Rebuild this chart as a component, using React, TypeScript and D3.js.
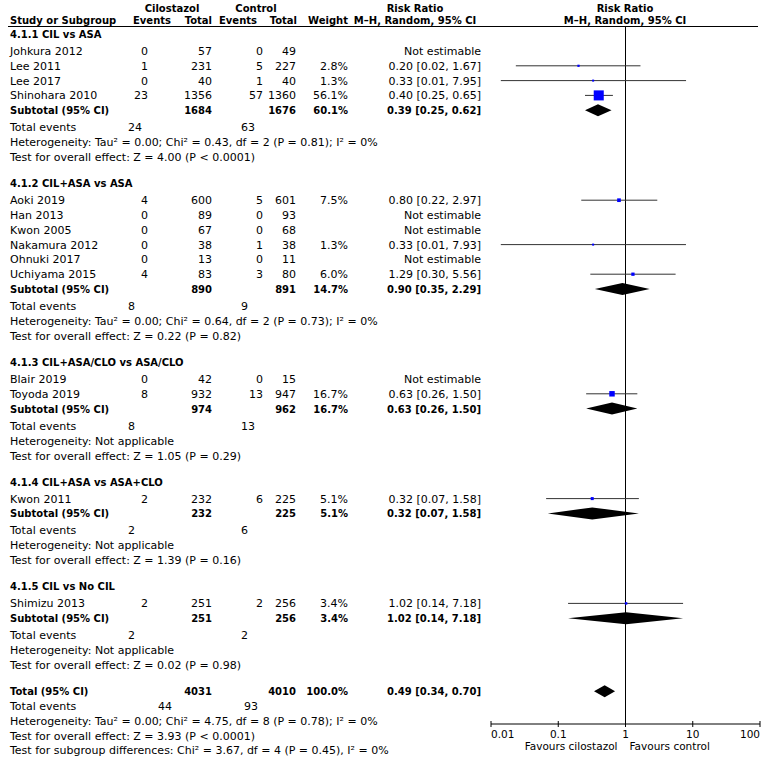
import React from "react";
import * as d3 from "d3";

// ---------- DATA ----------
const groupTitles = [
  "4.1.1 CIL vs ASA",
  "4.1.2 CIL+ASA vs ASA",
  "4.1.3 CIL+ASA/CLO vs ASA/CLO",
  "4.1.4 CIL+ASA vs ASA+CLO",
  "4.1.5 CIL vs No CIL",
];
const studyNames = [
  "Johkura 2012", "Lee 2011", "Lee 2017", "Shinohara 2010",
  "Aoki 2019", "Han 2013", "Kwon 2005", "Nakamura 2012", "Ohnuki 2017", "Uchiyama 2015",
  "Blair 2019", "Toyoda 2019",
  "Kwon 2011",
  "Shimizu 2013",
];
const studyGroup = [0, 0, 0, 0, 1, 1, 1, 1, 1, 1, 2, 2, 3, 4];
const cilEvents = [0, 1, 0, 23, 4, 0, 0, 0, 0, 4, 0, 8, 2, 2];
const cilTotal = [57, 231, 40, 1356, 600, 89, 67, 38, 13, 83, 42, 932, 232, 251];
const ctlEvents = [0, 5, 1, 57, 5, 0, 0, 1, 0, 3, 0, 13, 6, 2];
const ctlTotal = [49, 227, 40, 1360, 601, 93, 68, 38, 11, 80, 15, 947, 225, 256];
const studyWeight: (number | null)[] = [null, 2.8, 1.3, 56.1, 7.5, null, null, 1.3, null, 6.0, null, 16.7, 5.1, 3.4];
const studyRR: (number | null)[] = [null, 0.2, 0.33, 0.4, 0.8, null, null, 0.33, null, 1.29, null, 0.63, 0.32, 1.02];
const studyLo: (number | null)[] = [null, 0.0234, 0.014, 0.25, 0.22, null, null, 0.014, null, 0.3, null, 0.26, 0.066, 0.14];
const studyHi: (number | null)[] = [null, 1.67, 7.95, 0.65, 2.97, null, null, 7.93, null, 5.56, null, 1.5, 1.58, 7.18];

const subCilTotal = [1684, 890, 974, 232, 251];
const subCtlTotal = [1676, 891, 962, 225, 256];
const subWeight = [60.1, 14.7, 16.7, 5.1, 3.4];
const subRR = [0.39, 0.9, 0.63, 0.32, 1.02];
const subLo = [0.25, 0.35, 0.26, 0.07, 0.14];
const subHi = [0.62, 2.29, 1.5, 1.58, 7.18];
const subCilEvents = [24, 8, 8, 2, 2];
const subCtlEvents = [63, 9, 13, 6, 2];
const subHetero = [
  "Heterogeneity: Tau² = 0.00; Chi² = 0.43, df = 2 (P = 0.81); I² = 0%",
  "Heterogeneity: Tau² = 0.00; Chi² = 0.64, df = 2 (P = 0.73); I² = 0%",
  "Heterogeneity: Not applicable",
  "Heterogeneity: Not applicable",
  "Heterogeneity: Not applicable",
];
const subEffect = [
  "Test for overall effect: Z = 4.00 (P < 0.0001)",
  "Test for overall effect: Z = 0.22 (P = 0.82)",
  "Test for overall effect: Z = 1.05 (P = 0.29)",
  "Test for overall effect: Z = 1.39 (P = 0.16)",
  "Test for overall effect: Z = 0.02 (P = 0.98)",
];
const totCil = 4031;
const totCtl = 4010;
const totWeight = 100.0;
const totRR = 0.49;
const totLo = 0.34;
const totHi = 0.7;
const totCilEvents = 44;
const totCtlEvents = 93;
const totHetero = "Heterogeneity: Tau² = 0.00; Chi² = 4.75, df = 8 (P = 0.78); I² = 0%";
const totEffect = "Test for overall effect: Z = 3.93 (P < 0.0001)";
const totSubgroup = "Test for subgroup differences: Chi² = 3.67, df = 4 (P = 0.45), I² = 0%";

const axisTicks = [0.01, 0.1, 1, 10, 100];
const axisTickLabels = ["0.01", "0.1", "1", "10", "100"];
const favoursLeft = "Favours cilostazol";
const favoursRight = "Favours control";

// ---------- LAYOUT ----------
const W = 771;
const H = 762;
const FONT = "'DejaVu Sans', Verdana, sans-serif";
const FS = 11;
const FSB = 10;
const X = {
  label: 10,
  cilEv: 148,
  cilTot: 212,
  ctlEv: 263,
  ctlTot: 296,
  weight: 348,
  ciText: 481,
  teCil: 128,
  teCtl: 241,
  teTotCil: 158,
  teTotCtl: 244,
};
const xScale = d3.scaleLog().domain([0.01, 100]).range([491, 760]);
const axisY = 724;
const headerLineY = 26.5;
const fmt = (v: number) => v.toFixed(2);
const ciStr = (r: number, l: number, h: number) => `${fmt(r)} [${fmt(l)}, ${fmt(h)}]`;

type Row =
  | { kind: "group"; y: number; g: number }
  | { kind: "study"; y: number; i: number }
  | { kind: "sub"; y: number; g: number }
  | { kind: "te"; y: number; g: number }
  | { kind: "text"; y: number; text: string }
  | { kind: "total"; y: number }
  | { kind: "tte"; y: number };

function buildRows(): Row[] {
  const rows: Row[] = [];
  let y = 34;
  groupTitles.forEach((_, g) => {
    rows.push({ kind: "group", y, g });
    y += 17;
    studyNames.forEach((_, i) => {
      if (studyGroup[i] === g) {
        rows.push({ kind: "study", y, i });
        y += 14.8;
      }
    });
    rows.push({ kind: "sub", y, g });
    y += 17;
    rows.push({ kind: "te", y, g });
    y += 15;
    rows.push({ kind: "text", y, text: subHetero[g] });
    y += 15;
    rows.push({ kind: "text", y, text: subEffect[g] });
    y += 26;
  });
  rows.push({ kind: "total", y });
  y += 15;
  rows.push({ kind: "tte", y });
  y += 15;
  rows.push({ kind: "text", y, text: totHetero });
  y += 14.5;
  rows.push({ kind: "text", y, text: totEffect });
  y += 14.5;
  rows.push({ kind: "text", y, text: totSubgroup });
  return rows;
}

const T = ({ x, y, children, anchor = "start", bold = false }: any) => (
  <text x={x} y={y + 4} textAnchor={anchor} fontWeight={bold ? "bold" : "normal"}
    fontSize={bold ? FSB : FS}>
    {children}
  </text>
);

function Diamond({ y, r, l, h }: { y: number; r: number; l: number; h: number }) {
  const pts: [number, number][] = [
    [xScale(l), y],
    [xScale(r), y - 6],
    [xScale(h), y],
    [xScale(r), y + 6],
  ];
  return <polygon points={pts.map((p) => p.join(",")).join(" ")} fill="#000" />;
}

export default function App() {
  const rows = buildRows();
  const x1 = xScale(1);
  return (
    <svg width={W} height={H} style={{ display: "block", position: "absolute", left: 0, top: 0 }}
      fontFamily={FONT} fontSize={FS} fill="#000">
      <rect width={W} height={H} fill="#fff" />
      {/* headers */}
      <T x={172} y={8} anchor="middle" bold>Cilostazol</T>
      <T x={256} y={8} anchor="middle" bold>Control</T>
      <T x={415} y={8} anchor="middle" bold>Risk Ratio</T>
      <T x={625} y={8} anchor="middle" bold>Risk Ratio</T>
      <T x={X.label} y={20} bold>Study or Subgroup</T>
      <T x={171} y={20} anchor="end" bold>Events</T>
      <T x={X.cilTot} y={20} anchor="end" bold>Total</T>
      <T x={257} y={20} anchor="end" bold>Events</T>
      <T x={X.ctlTot + 1} y={20} anchor="end" bold>Total</T>
      <T x={X.weight} y={20} anchor="end" bold>Weight</T>
      <T x={415} y={20} anchor="middle" bold>M–H, Random, 95% CI</T>
      <T x={625} y={20} anchor="middle" bold>M–H, Random, 95% CI</T>
      <line x1={8} x2={758} y1={headerLineY} y2={headerLineY} stroke="#000" strokeWidth={1} />
      {/* vertical line of no effect */}
      <line x1={x1} x2={x1} y1={headerLineY} y2={axisY} stroke="#000" strokeWidth={1} />

      {rows.map((row, k) => {
        if (row.kind === "group") {
          return <T key={k} x={X.label} y={row.y} bold>{groupTitles[row.g]}</T>;
        }
        if (row.kind === "study") {
          const i = row.i;
          const w = studyWeight[i];
          const r = studyRR[i];
          const l = studyLo[i];
          const h = studyHi[i];
          const side = w != null ? Math.max(2, 1.34 * Math.sqrt(w)) : 0;
          return (
            <g key={k}>
              <T x={X.label} y={row.y}>{studyNames[i]}</T>
              <T x={X.cilEv} y={row.y} anchor="end">{cilEvents[i]}</T>
              <T x={X.cilTot} y={row.y} anchor="end">{cilTotal[i]}</T>
              <T x={X.ctlEv} y={row.y} anchor="end">{ctlEvents[i]}</T>
              <T x={X.ctlTot} y={row.y} anchor="end">{ctlTotal[i]}</T>
              {w != null && <T x={X.weight} y={row.y} anchor="end">{w.toFixed(1)}%</T>}
              <T x={X.ciText} y={row.y} anchor="end">
                {r != null && l != null && h != null ? ciStr(r, l, h) : "Not estimable"}
              </T>
              {r != null && l != null && h != null && (
                <g>
                  <line x1={xScale(l)} x2={xScale(h)} y1={row.y} y2={row.y} stroke="#333" strokeWidth={1} />
                  <rect x={xScale(r) - side / 2} y={row.y - side / 2} width={side} height={side} fill="#0000ff" />
                </g>
              )}
            </g>
          );
        }
        if (row.kind === "sub") {
          const g = row.g;
          return (
            <g key={k}>
              <T x={X.label} y={row.y} bold>Subtotal (95% CI)</T>
              <T x={X.cilTot} y={row.y} anchor="end" bold>{subCilTotal[g]}</T>
              <T x={X.ctlTot} y={row.y} anchor="end" bold>{subCtlTotal[g]}</T>
              <T x={X.weight} y={row.y} anchor="end" bold>{subWeight[g].toFixed(1)}%</T>
              <T x={X.ciText} y={row.y} anchor="end" bold>{ciStr(subRR[g], subLo[g], subHi[g])}</T>
              <Diamond y={row.y} r={subRR[g]} l={subLo[g]} h={subHi[g]} />
            </g>
          );
        }
        if (row.kind === "te") {
          return (
            <g key={k}>
              <T x={X.label} y={row.y}>Total events</T>
              <T x={X.teCil} y={row.y}>{subCilEvents[row.g]}</T>
              <T x={X.teCtl} y={row.y}>{subCtlEvents[row.g]}</T>
            </g>
          );
        }
        if (row.kind === "text") {
          return <T key={k} x={X.label} y={row.y}>{row.text}</T>;
        }
        if (row.kind === "total") {
          return (
            <g key={k}>
              <T x={X.label} y={row.y} bold>Total (95% CI)</T>
              <T x={X.cilTot} y={row.y} anchor="end" bold>{totCil}</T>
              <T x={X.ctlTot} y={row.y} anchor="end" bold>{totCtl}</T>
              <T x={X.weight} y={row.y} anchor="end" bold>{totWeight.toFixed(1)}%</T>
              <T x={X.ciText} y={row.y} anchor="end" bold>{ciStr(totRR, totLo, totHi)}</T>
              <Diamond y={row.y} r={totRR} l={totLo} h={totHi} />
            </g>
          );
        }
        if (row.kind === "tte") {
          return (
            <g key={k}>
              <T x={X.label} y={row.y}>Total events</T>
              <T x={X.teTotCil} y={row.y}>{totCilEvents}</T>
              <T x={X.teTotCtl} y={row.y}>{totCtlEvents}</T>
            </g>
          );
        }
        return null;
      })}

      {/* axis */}
      <line x1={xScale(0.01)} x2={xScale(100)} y1={axisY} y2={axisY} stroke="#000" strokeWidth={1} />
      {axisTicks.map((t, i) => (
        <g key={t}>
          <line x1={xScale(t)} x2={xScale(t)} y1={axisY - 3} y2={axisY + 3} stroke="#000" strokeWidth={1} />
          <text x={xScale(t)} y={738} fontSize={10.5}
            textAnchor={i === 0 ? "start" : i === axisTicks.length - 1 ? "end" : "middle"}>
            {axisTickLabels[i]}
          </text>
        </g>
      ))}
      <text x={x1 - 8} y={749.5} fontSize={10.5} textAnchor="end">{favoursLeft}</text>
      <text x={x1 + 4} y={749.5} fontSize={10.5} textAnchor="start">{favoursRight}</text>
    </svg>
  );
}
